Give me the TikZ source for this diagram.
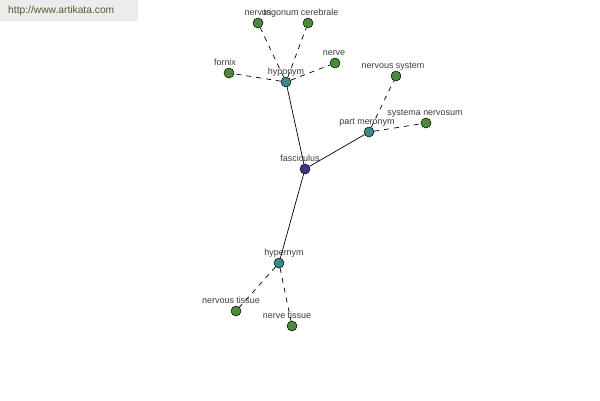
\documentclass[tikz,border=0pt]{standalone}
\usepackage{fontspec}
\setmainfont{Liberation Sans}
\usetikzlibrary{positioning}

\definecolor{leafgreen}{RGB}{74,138,58}
\definecolor{relteal}{RGB}{58,138,138}
\definecolor{rootblue}{RGB}{58,58,138}
\definecolor{lblgray}{RGB}{60,60,60}
\definecolor{urlgreen}{RGB}{75,95,45}
\definecolor{bannergray}{RGB}{236,236,236}

\begin{document}
\begin{tikzpicture}[x=1bp, y=-1bp,
    dot/.style={circle, draw=black, line width=0.5bp, minimum size=10bp, inner sep=0pt},
    leaf/.style={dot, fill=leafgreen},
    rel/.style={dot, fill=relteal},
    root/.style={dot, fill=rootblue},
    every label/.style={font=\fontsize{9}{10}\selectfont, text=lblgray, inner sep=0pt, text depth=0pt},
    label distance=2bp,
    link/.style={line width=0.7bp},
    sublink/.style={line width=0.7bp, dash pattern=on 5bp off 5bp}]
    \useasboundingbox (0,0) rectangle (600,400);
    \node[fill=bannergray, minimum width=138bp, minimum height=21bp, inner sep=0pt, anchor=north west] (banner) at (0,0) {};
    \node[anchor=west, text=urlgreen, font=\fontsize{10.3}{11}\selectfont, inner sep=0pt] (url) at (8,11) {http://www.artikata.com};
    \node[root, label={[xshift=-5bp]above:fasciculus}] (fasc) at (305,169) {};
    \node[rel, label={above:hyponym}] (hypo) at (286,82) {};
    \node[rel, label={[xshift=-2bp]above:part meronym}] (mero) at (369,132) {};
    \node[rel, label={[xshift=5bp]above:hypernym}] (hyper) at (279,263) {};
    \node[leaf, label={above:nervus}] (nervus) at (258,23) {};
    \node[leaf, label={[xshift=-7bp]above:trigonum cerebrale}] (trig) at (308,23) {};
    \node[leaf, label={[xshift=-4bp]above:fornix}] (fornix) at (229,73) {};
    \node[leaf, label={[xshift=-1bp]above:nerve}] (nerve) at (335,63) {};
    \node[leaf, label={[xshift=-3bp]above:nervous system}] (nsys) at (396,76) {};
    \node[leaf, label={[xshift=-1bp]above:systema nervosum}] (sysnerv) at (426,123) {};
    \node[leaf, label={[xshift=-5bp]above:nervous tissue}] (ntis) at (236,311) {};
    \node[leaf, label={[xshift=-5bp]above:nerve tissue}] (nvtis) at (292,326) {};
    \draw[link] (fasc) -- (hypo);
    \draw[link] (fasc) -- (mero);
    \draw[link] (fasc) -- (hyper);
    \draw[sublink] (hypo) -- (nervus);
    \draw[sublink] (hypo) -- (trig);
    \draw[sublink] (hypo) -- (fornix);
    \draw[sublink] (hypo) -- (nerve);
    \draw[sublink] (mero) -- (nsys);
    \draw[sublink] (mero) -- (sysnerv);
    \draw[sublink] (hyper) -- (ntis);
    \draw[sublink] (hyper) -- (nvtis);
  \end{tikzpicture}
\end{document}
